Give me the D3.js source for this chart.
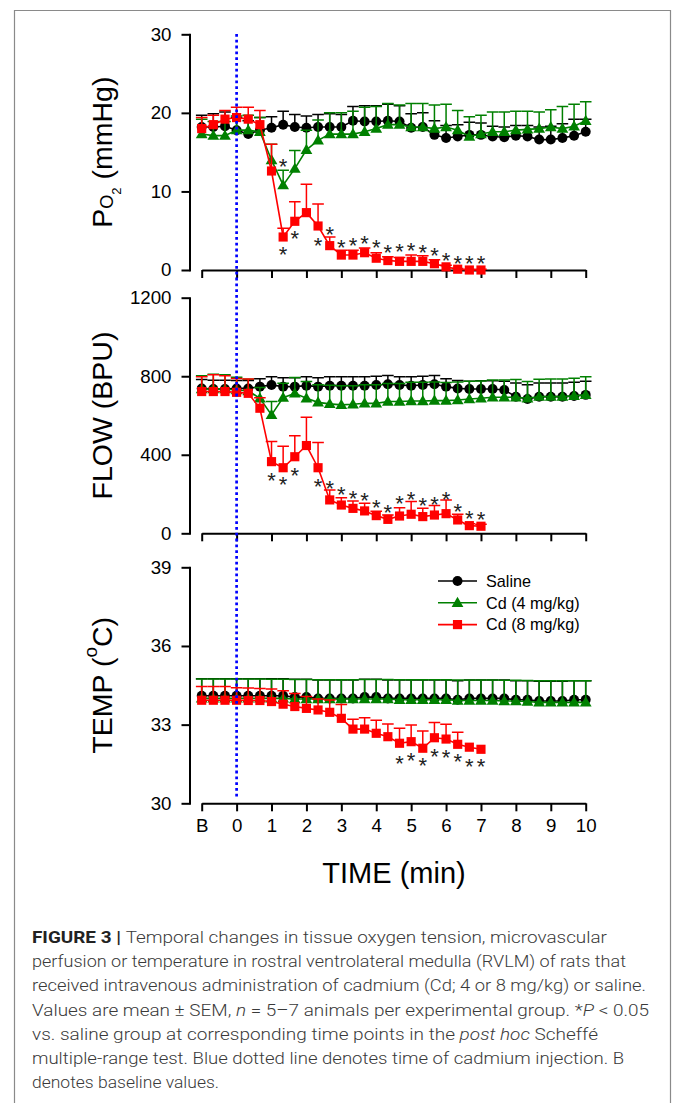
<!DOCTYPE html>
<html>
<head>
<meta charset="utf-8">
<script src="https://d3js.org/d3.v7.min.js"></script>
<style>
body { margin: 0; background: #fff; }
svg { display: block; font-family: "Liberation Sans", Arial, sans-serif; }
</style>
</head>
<body>
<svg id="fig" width="674" height="1103"></svg>
<script>
// time points (min), B = baseline at -1
var times = [-1, -0.667, -0.333, 0, 0.333, 0.667, 1, 1.333, 1.667, 2, 2.333, 2.667, 3, 3.333, 3.667, 4, 4.333, 4.667,
	5, 5.333, 5.667, 6, 6.333, 6.667, 7, 7.333, 7.667, 8, 8.333, 8.667, 9, 9.333, 9.667, 10];
var xTicks = [-1, 0, 1, 2, 3, 4, 5, 6, 7, 8, 9, 10];
var xTickLabels = ["B", "0", "1", "2", "3", "4", "5", "6", "7", "8", "9", "10"];
var seriesNames = ["Saline", "Cd (4 mg/kg)", "Cd (8 mg/kg)"];

// PO2 (mmHg)
var po2Saline = [18.2, 18.2, 18.3, 17.8, 17.3, 17.8, 18.1, 18.5, 18.2, 18.1, 18.2, 18.2, 18.2, 19.0, 18.9, 18.9, 19.0, 18.9,
	18.1, 18.2, 17.2, 16.8, 17.0, 17.2, 17.2, 17.0, 16.9, 17.1, 17.0, 16.6, 16.6, 16.8, 17.1, 17.6];
var po2SalineSem = [1.5, 1.7, 1.8, 1.6, 1.7, 1.6, 1.4, 1.7, 1.6, 1.5, 1.6, 1.7, 1.6, 1.8, 2.0, 2.0, 2.1, 2.0,
	1.8, 1.8, 1.8, 1.6, 1.5, 1.6, 1.5, 1.3, 1.3, 1.3, 1.4, 1.6, 1.7, 1.8, 2.1, 1.6];
var po2Cd4 = [17.3, 17.1, 17.1, 17.8, 17.8, 17.6, 14.0, 10.8, 12.9, 15.3, 16.5, 17.3, 17.3, 17.3, 17.6, 18.0, 18.5, 18.5,
	18.2, 18.2, 18.0, 18.2, 17.8, 17.0, 17.3, 17.6, 17.6, 17.8, 17.9, 18.0, 18.2, 18.0, 18.3, 19.0];
var po2Cd4Sem = [1.9, 1.8, 1.8, 1.8, 1.9, 1.8, 2.0, 1.9, 2.3, 2.5, 2.6, 2.7, 2.7, 2.9, 3.1, 2.8, 2.7, 2.5,
	3.0, 3.0, 3.0, 2.9, 2.5, 2.5, 2.4, 2.5, 2.5, 2.4, 2.3, 2.1, 2.2, 2.8, 2.8, 2.4];
var po2Cd8 = [18.0, 18.5, 19.2, 19.4, 19.2, 18.5, 12.6, 4.2, 6.2, 7.3, 5.6, 3.1, 1.9, 1.9, 2.2, 1.5, 1.2, 1.1,
	1.1, 1.1, 0.8, 0.4, 0.1, 0.0, 0.0];
var po2Cd8Sem = [1.4, 1.2, 1.1, 1.3, 1.5, 1.8, 3.4, 1.1, 2.5, 3.6, 2.8, 1.1, 0.6, 0.6, 0.6, 0.7, 0.5, 0.5,
	0.8, 0.7, 0.5, 0.2, 0.1, 0.1, 0.1];
var po2StarsCd4 = [[7, 13.9]];
var po2StarsCd8 = [[7, 2.6], [8, 4.7], [10, 3.8], [11, 5.2], [12, 3.5], [13, 3.8], [14, 4.0], [15, 3.5], [16, 2.9],
	[17, 3.0], [18, 3.2], [19, 2.9], [20, 2.5], [21, 1.9], [22, 1.5], [23, 1.5], [24, 1.5]];

// FLOW (BPU)
var flowSaline = [738, 735, 735, 738, 738, 747, 755, 747, 747, 752, 747, 752, 752, 752, 752, 755, 759, 755,
	752, 755, 759, 747, 738, 735, 735, 735, 730, 696, 684, 696, 696, 696, 699, 705];
var flowSalineSem = [45, 45, 45, 40, 40, 40, 42, 45, 45, 45, 45, 45, 45, 45, 45, 45, 45, 42,
	45, 45, 45, 40, 40, 40, 42, 42, 45, 70, 72, 70, 70, 70, 70, 70];
var flowCd4 = [735, 735, 735, 730, 725, 688, 603, 691, 713, 688, 667, 659, 654, 657, 662, 662, 671, 671,
	674, 674, 676, 676, 679, 684, 688, 693, 693, 693, 688, 696, 696, 696, 700, 705];
var flowCd4Sem = [68, 75, 72, 65, 60, 55, 68, 73, 80, 85, 90, 95, 97, 95, 95, 95, 92, 92,
	95, 95, 95, 92, 92, 90, 88, 88, 88, 90, 85, 88, 90, 90, 90, 93];
var flowCd8 = [722, 722, 722, 718, 713, 637, 365, 334, 390, 447, 334, 170, 144, 127, 114, 90, 71, 88,
	97, 85, 93, 100, 68, 39, 36];
var flowCd8Sem = [76, 85, 80, 70, 73, 54, 102, 110, 107, 144, 129, 51, 37, 37, 39, 22, 22, 42,
	65, 42, 48, 70, 29, 10, 10];
var flowStarsCd8 = [[6, 294], [7, 277], [8, 323], [10, 267], [11, 255], [12, 226], [13, 204], [14, 192], [15, 158],
	[16, 131], [17, 178], [18, 199], [19, 170], [20, 173], [21, 199], [22, 136], [23, 102], [24, 97]];

// TEMP (oC)
var tempSaline = [34.1, 34.1, 34.1, 34.1, 34.1, 34.1, 34.1, 34.1, 34.05, 34.05, 34.0, 34.0, 34.0, 34.0, 34.05, 34.05, 34.0, 34.0,
	34.0, 34.0, 34.0, 34.0, 33.95, 34.0, 34.0, 34.0, 34.0, 33.95, 33.95, 33.9, 33.9, 33.9, 33.95, 33.95];
var tempSalineSem = [0.65, 0.65, 0.65, 0.65, 0.65, 0.65, 0.65, 0.65, 0.68, 0.68, 0.7, 0.7, 0.7, 0.7, 0.68, 0.68, 0.7, 0.7,
	0.7, 0.7, 0.7, 0.7, 0.72, 0.7, 0.7, 0.7, 0.7, 0.72, 0.72, 0.75, 0.75, 0.75, 0.72, 0.72];
var tempCd4 = [34.0, 34.0, 34.0, 34.0, 34.0, 34.0, 34.0, 34.0, 33.98, 33.98, 33.98, 33.98, 33.98, 33.98, 33.98, 33.98, 33.98, 33.95,
	33.95, 33.95, 33.95, 33.95, 33.92, 33.92, 33.92, 33.92, 33.9, 33.9, 33.88, 33.85, 33.85, 33.85, 33.85, 33.85];
var tempCd4Sem = [0.74, 0.74, 0.74, 0.74, 0.74, 0.74, 0.73, 0.73, 0.74, 0.74, 0.73, 0.73, 0.73, 0.73, 0.74, 0.74, 0.74, 0.76,
	0.76, 0.76, 0.76, 0.76, 0.78, 0.78, 0.78, 0.78, 0.79, 0.79, 0.8, 0.82, 0.82, 0.82, 0.82, 0.82];
var tempCd8 = [33.93, 33.93, 33.93, 33.93, 33.92, 33.92, 33.88, 33.78, 33.69, 33.62, 33.56, 33.47, 33.24, 32.83, 32.83, 32.67, 32.54, 32.29,
	32.35, 32.10, 32.50, 32.45, 32.25, 32.14, 32.06];
var tempCd8Sem = [0.52, 0.52, 0.52, 0.48, 0.48, 0.46, 0.48, 0.51, 0.5, 0.45, 0.42, 0.47, 0.53, 0.38, 0.43, 0.5, 0.48, 0.57,
	0.64, 0.66, 0.58, 0.56, 0.46, 0, 0];
var tempStarsCd8 = [[17, 31.72], [18, 31.84], [19, 31.65], [20, 32.0], [21, 31.94], [22, 31.78], [23, 31.61], [24, 31.61]];

// caption, one entry per printed line, [text, style]
var captionLines = [
	[["FIGURE 3 | ", "b"], ["Temporal changes in tissue oxygen tension, microvascular", ""]],
	[["perfusion or temperature in rostral ventrolateral medulla (RVLM) of rats that", ""]],
	[["received intravenous administration of cadmium (Cd; 4 or 8 mg/kg) or saline.", ""]],
	[["Values are mean \u00b1 SEM, ", ""], ["n", "i"], [" = 5\u20137 animals per experimental group. *", ""], ["P", "i"], [" < 0.05", ""]],
	[["vs. saline group at corresponding time points in the ", ""], ["post hoc", "i"], [" Scheff\u00e9", ""]],
	[["multiple-range test. Blue dotted line denotes time of cadmium injection. B", ""]],
	[["denotes baseline values.", ""]]
];
var captionWidths = [575, 594, 614, 617, 566, 592, 187];

var svg = d3.select("#fig");
var colors = ["#000000", "#008000", "#ff0000"];
var shapes = [d3.symbolCircle, d3.symbolTriangle, d3.symbolSquare];
var shapeSizes = [78, 60, 84];

var axisX = 189.5;
var x = d3.scaleLinear().domain([-1, 10]).range([201.7, 585.7]);

// frame
svg.append("path")
	.attr("d", "M14.5,1103 V10.5 H670.5 V1103")
	.attr("fill", "none")
	.attr("stroke", "#8a8a8a")
	.attr("stroke-width", 1.2);

function drawPanel(p) {
	var y = d3.scaleLinear().domain(p.domain).range([p.bottom, p.top]);
	var g = svg.append("g");

	var ya = g.append("g")
		.attr("transform", "translate(" + axisX + ",0)")
		.call(d3.axisLeft(y).tickValues(p.ticks).tickSize(8).tickSizeOuter(0).tickPadding(10).tickFormat(d3.format("d")));
	ya.selectAll("path, line").attr("stroke", "#000").attr("stroke-width", 2);
	ya.selectAll("text").attr("font-size", 18.7).attr("fill", "#000").attr("font-family", null);

	var xa = g.append("g")
		.attr("transform", "translate(0," + p.bottom + ")")
		.call(d3.axisBottom(x).tickValues(xTicks).tickSize(8).tickSizeOuter(0).tickPadding(7)
			.tickFormat(function(d, i) { return p.labels ? xTickLabels[i] : ""; }));
	xa.selectAll("path, line").attr("stroke", "#000").attr("stroke-width", 2);
	xa.selectAll("text").attr("font-size", 18.7).attr("fill", "#000").attr("font-family", null);
	ya.select(".domain").attr("stroke-linecap", "square");

	// series
	p.series.forEach(function(s, k) {
		var sg = g.append("g");
		var pts = s.vals.map(function(v, i) { return {t: times[i], v: v, e: s.sem[i]}; });
		sg.selectAll(".eb").data(pts).enter().append("path")
			.attr("class", "eb")
			.attr("d", function(d) {
				if (!d.e) return null;
				var cx = x(d.t), y0 = y(d.v), y1 = y(d.v + d.e);
				return "M" + cx + "," + y0 + "V" + y1 + "M" + (cx - 5.8) + "," + y1 + "H" + (cx + 5.8);
			})
			.attr("fill", "none")
			.attr("stroke", colors[k])
			.attr("stroke-width", 1.5);
		sg.append("path")
			.datum(pts)
			.attr("d", d3.line().x(function(d) { return x(d.t); }).y(function(d) { return y(d.v); }))
			.attr("fill", "none")
			.attr("stroke", colors[k])
			.attr("stroke-width", 1.6);
		sg.selectAll(".mk").data(pts).enter().append("path")
			.attr("class", "mk")
			.attr("transform", function(d) { return "translate(" + x(d.t) + "," + (y(d.v) + (k == 1 ? 0.8 : 0)) + ")"; })
			.attr("d", d3.symbol().type(shapes[k]).size(shapeSizes[k]))
			.attr("fill", colors[k]);
	});

	// significance marks
	p.stars.forEach(function(st) {
		g.selectAll(null).data(st).enter().append("text")
			.attr("x", function(d) { return x(times[d[0]]); })
			.attr("y", function(d) { return y(d[1]) + 12.8; })
			.attr("text-anchor", "middle")
			.attr("font-size", 22)
			.attr("fill", "#222")
			.text("*");
	});

	// y title
	var cy = (p.top + p.bottom) / 2;
	var tt = g.append("text")
		.attr("transform", "translate(111.5," + cy + ") rotate(-90)")
		.attr("text-anchor", "middle")
		.attr("font-size", 28.5)
		.attr("fill", "#000");
	p.title(tt);
	return y;
}

drawPanel({
	domain: [0, 30], ticks: [0, 10, 20, 30], top: 34.3, bottom: 270, labels: false,
	series: [{vals: po2Saline, sem: po2SalineSem}, {vals: po2Cd4, sem: po2Cd4Sem}, {vals: po2Cd8, sem: po2Cd8Sem}],
	stars: [po2StarsCd4, po2StarsCd8],
	title: function(t) {
		t.append("tspan").text("P");
		t.append("tspan").attr("font-size", 18).attr("dy", 1).text("O");
		t.append("tspan").attr("font-size", 13).attr("dy", 8).text("2");
		t.append("tspan").attr("dy", -9).text(" (mmHg)");
	}
});

drawPanel({
	domain: [0, 1200], ticks: [0, 400, 800, 1200], top: 297.7, bottom: 533.3, labels: false,
	series: [{vals: flowSaline, sem: flowSalineSem}, {vals: flowCd4, sem: flowCd4Sem}, {vals: flowCd8, sem: flowCd8Sem}],
	stars: [flowStarsCd8],
	title: function(t) { t.text("FLOW (BPU)"); }
});

drawPanel({
	domain: [30, 39], ticks: [30, 33, 36, 39], top: 567.3, bottom: 803.3, labels: true,
	series: [{vals: tempSaline, sem: tempSalineSem}, {vals: tempCd4, sem: tempCd4Sem}, {vals: tempCd8, sem: tempCd8Sem}],
	stars: [tempStarsCd8],
	title: function(t) {
		t.append("tspan").text("TEMP (");
		t.append("tspan").attr("font-size", 19).attr("dy", -15).text("o");
		t.append("tspan").attr("dy", 15).text("C)");
	}
});

// injection time
svg.append("line")
	.attr("x1", x(0)).attr("x2", x(0))
	.attr("y1", 34).attr("y2", 798)
	.attr("stroke", "#0000ff")
	.attr("stroke-width", 2.7)
	.attr("stroke-dasharray", "2.8,3");

// x title
svg.append("text")
	.attr("x", 394).attr("y", 883)
	.attr("text-anchor", "middle")
	.attr("font-size", 29)
	.text("TIME (min)");

// legend
var lg = svg.append("g").attr("transform", "translate(438,581)");
seriesNames.forEach(function(name, k) {
	var row = lg.append("g").attr("transform", "translate(0," + (k * 21.8) + ")");
	row.append("line").attr("x1", 0).attr("x2", 39).attr("stroke", colors[k]).attr("stroke-width", 1.6);
	row.append("path")
		.attr("transform", "translate(19.5," + (k == 1 ? 0.8 : 0) + ")")
		.attr("d", d3.symbol().type(shapes[k]).size(shapeSizes[k]))
		.attr("fill", colors[k]);
	row.append("text").attr("x", 48).attr("y", 5.8).attr("font-size", 16.2).text(name);
});

// caption
var cap = svg.append("g").attr("font-family", "Roboto, 'Liberation Sans Narrow', sans-serif").attr("fill", "#3a3a3a");
captionLines.forEach(function(line, i) {
	var t = cap.append("text")
		.attr("x", 32).attr("y", 943 + i * 24.2)
		.attr("font-size", 16.5)
		.attr("font-weight", 300)
		.attr("textLength", captionWidths[i])
		.attr("lengthAdjust", "spacingAndGlyphs");
	line.forEach(function(seg) {
		var s = t.append("tspan").text(seg[0]);
		if (seg[1] == "b") s.attr("font-weight", 700).attr("fill", "#222");
		if (seg[1] == "i") s.attr("font-style", "italic");
	});
});
</script>
</body>
</html>
